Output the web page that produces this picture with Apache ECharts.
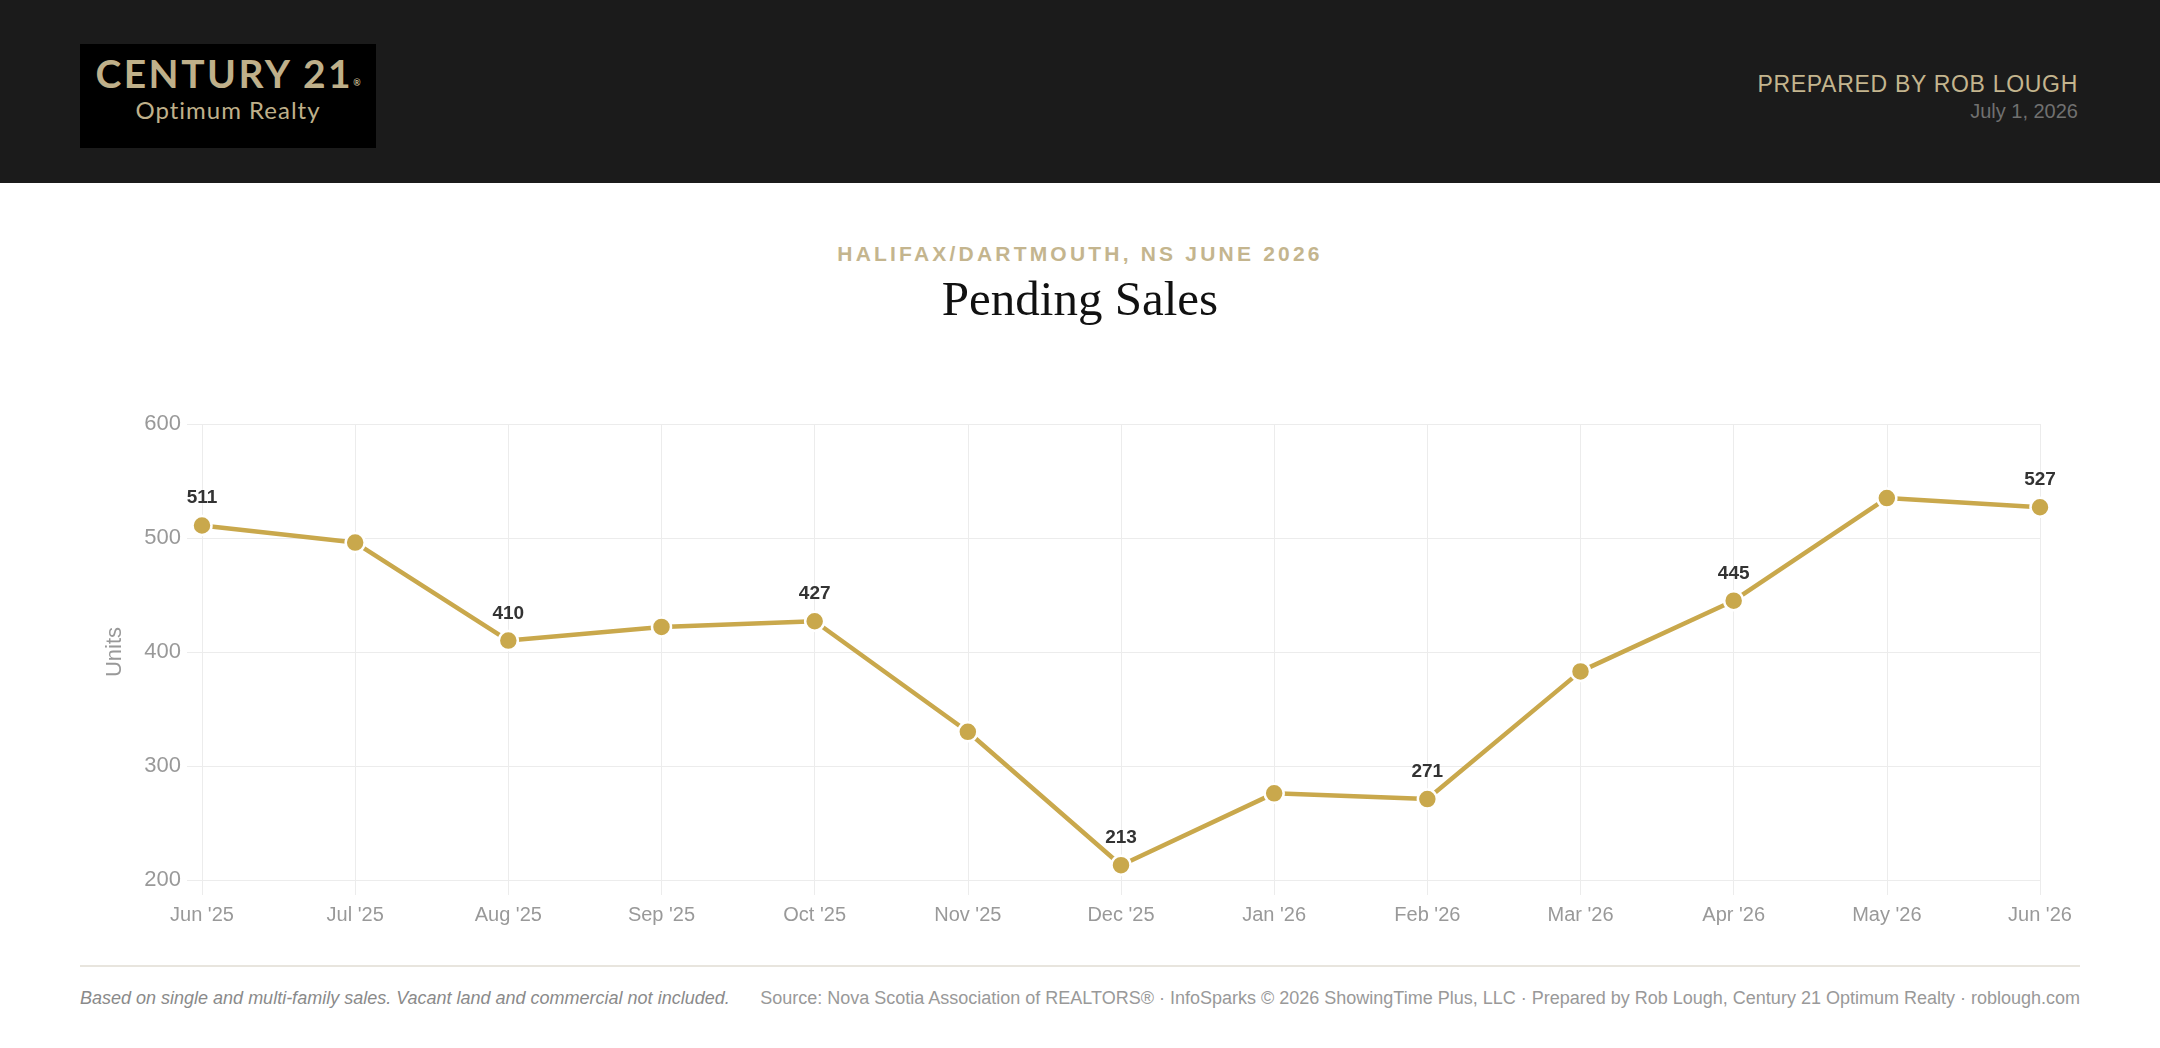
<!DOCTYPE html>
<html>
<head>
<meta charset="utf-8">
<title>Pending Sales</title>
<script src="https://cdn.jsdelivr.net/npm/echarts@6/dist/echarts.min.js"></script>
<style>
  html, body { margin: 0; padding: 0; background: #fff; }
  body { width: 2160px; height: 1048px; position: relative; overflow: hidden; font-family: "Liberation Sans", Arial, sans-serif; }
  .header { position: absolute; left: 0; top: 0; width: 2160px; height: 183px; background: #1b1b1b; }
  .logo { position: absolute; left: 80px; top: 44px; width: 296px; height: 104px; background: #000; text-align: center; color: #bfb08a; }
  .logo .brand { position: absolute; left: 0; width: 296px; top: 6px; font-family: Lato, "Noto Sans", sans-serif; font-weight: 700; font-size: 39px; letter-spacing: 2.5px; }
  .logo .brand sup { font-size: 9px; letter-spacing: 0; vertical-align: 2px; }
  .logo .sub { position: absolute; left: 0; width: 296px; top: 51px; font-family: Lato, "Noto Sans", sans-serif; font-size: 24px; letter-spacing: 1px; }
  .prep { position: absolute; right: 82px; top: 71px; color: #c4b58e; font-size: 23px; letter-spacing: 0.7px; }
  .date { position: absolute; right: 82px; top: 100px; color: #707070; font-size: 20px; }
  .kicker { position: absolute; left: 0; width: 2160px; top: 242px; text-align: center; color: #c4b58e; font-weight: 700; font-size: 21px; letter-spacing: 3.2px; }
  .title { position: absolute; left: 0; width: 2160px; top: 270px; text-align: center; color: #111; font-family: "Liberation Serif", serif; font-size: 49px; }
  #chart { position: absolute; left: 0; top: 380px; width: 2160px; height: 560px; }
  .rule { position: absolute; left: 80px; top: 965px; width: 2000px; height: 2px; background: #e8e5de; }
  .foot { position: absolute; left: 80px; top: 988px; width: 2000px; display: flex; justify-content: space-between; font-size: 18px; color: #8a8a8a; }
  .foot .note { font-style: italic; }
  .foot .src { color: #999; }
</style>
</head>
<body>
<div class="header">
  <div class="logo">
    <div class="brand">CENTURY 21<sup>®</sup></div>
    <div class="sub">Optimum Realty</div>
  </div>
  <div class="prep">PREPARED BY ROB LOUGH</div>
  <div class="date">July 1, 2026</div>
</div>
<div class="kicker">HALIFAX/DARTMOUTH, NS JUNE 2026</div>
<div class="title">Pending Sales</div>
<div id="chart"></div>
<div class="rule"></div>
<div class="foot">
  <span class="note">Based on single and multi-family sales. Vacant land and commercial not included.</span>
  <span class="src">Source: Nova Scotia Association of REALTORS® · InfoSparks © 2026 ShowingTime Plus, LLC · Prepared by Rob Lough, Century 21 Optimum Realty · roblough.com</span>
</div>

<script>
// monthly pending sales
var months = ["Jun '25", "Jul '25", "Aug '25", "Sep '25", "Oct '25", "Nov '25", "Dec '25",
              "Jan '26", "Feb '26", "Mar '26", "Apr '26", "May '26", "Jun '26"];
var pending = [511, 496, 410, 422, 427, 330, 213, 276, 271, 383, 445, 535, 527];
var yTicks = { min: 200, max: 600, step: 100 };

var gold = "#c9a84c";
var grid = "#ececec";

var myChart = echarts.init(document.getElementById("chart"));

var option = {
  animation: false,
  grid: { left: 202, right: 120, top: 44, bottom: 60 },
  xAxis: {
    type: "category",
    boundaryGap: false,
    data: months,
    axisLine: { show: false },
    axisTick: { show: true, length: 15, alignWithLabel: true, lineStyle: { color: grid } },
    splitLine: { show: true, lineStyle: { color: grid, width: 1 } },
    axisLabel: { color: "#999", fontSize: 20, margin: 25, fontFamily: "Liberation Sans" }
  },
  yAxis: {
    type: "value",
    min: yTicks.min,
    max: yTicks.max,
    interval: yTicks.step,
    name: "Units",
    nameLocation: "middle",
    nameGap: 76,
    nameTextStyle: { color: "#999", fontSize: 22, fontFamily: "Liberation Sans" },
    axisLine: { show: false },
    axisTick: { show: true, length: 15, lineStyle: { color: grid } },
    splitLine: { show: true, lineStyle: { color: grid, width: 1 } },
    axisLabel: { color: "#999", fontSize: 22, margin: 21, fontFamily: "Liberation Sans" }
  },
  series: [
    {
      name: "Pending Sales",
      type: "line",
      data: pending,
      symbol: "circle",
      symbolSize: 19,
      lineStyle: { color: gold, width: 4.5 },
      itemStyle: { color: gold, borderColor: "#fff", borderWidth: 2.5 },
      label: {
        show: true,
        position: "top",
        distance: 7,
        color: "#333",
        fontSize: 19,
        fontWeight: "bold",
        fontFamily: "Liberation Sans",
        formatter: function (p) {
          // only every other month gets a value label
          return p.dataIndex % 2 === 0 ? String(p.value) : "";
        }
      }
    }
  ]
};

myChart.setOption(option);
</script>
</body>
</html>
